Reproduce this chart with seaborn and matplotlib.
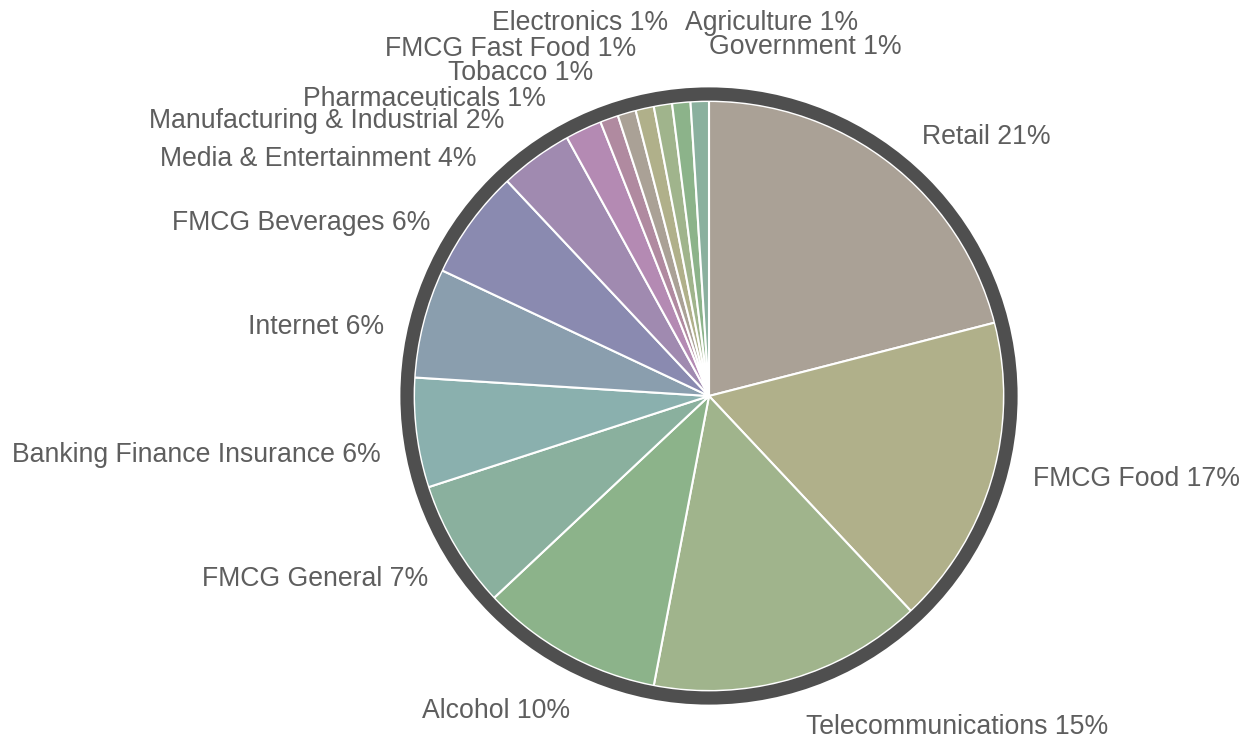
import matplotlib
matplotlib.use("Agg")
import matplotlib.pyplot as plt
from matplotlib.patches import Circle
import seaborn as sns

# Share of clients by industry (%)
industries = [
    "Retail", "FMCG Food", "Telecommunications", "Alcohol", "FMCG General",
    "Banking Finance Insurance", "Internet", "FMCG Beverages",
    "Media & Entertainment", "Manufacturing & Industrial", "Pharmaceuticals",
    "Tobacco", "FMCG Fast Food", "Electronics", "Agriculture", "Government",
]
shares = [21, 17, 15, 10, 7, 6, 6, 6, 4, 2, 1, 1, 1, 1, 1, 1]

# Muted 11-colour cycle used for the wedges
palette_hex = [
    "#aaa196", "#b0b08a", "#a0b48c", "#8cb38a", "#8ab09e", "#8ab0ae",
    "#8a9eae", "#8a8ab0", "#a08ab0", "#b48ab3", "#b08aa0",
]

W, H = 1245, 742
sns.set_theme(style="white")
plt.rcParams["font.family"] = ["Liberation Sans", "DejaVu Sans"]

fig = plt.figure(figsize=(W / 100, H / 100), dpi=100)
ax = fig.add_axes([0, 0, 1, 1])
ax.set_xlim(0, W)
ax.set_ylim(0, H)
ax.set_aspect("equal")
ax.axis("off")

cx, cy = 709, H - 396
radius = 295

colors = sns.color_palette(palette_hex, n_colors=len(palette_hex))
wedge_colors = [colors[i % len(colors)] for i in range(len(shares))]

ax.pie(
    shares,
    colors=wedge_colors,
    startangle=90,
    counterclock=False,
    center=(cx, cy),
    radius=radius,
    wedgeprops=dict(edgecolor="white", linewidth=1.5),
    frame=True,
)
ax.set_xlim(0, W)
ax.set_ylim(0, H)
ax.axis("off")

# Dark outline ring around the pie
ax.add_patch(Circle((cx, cy), radius + 7, fill=False,
                    edgecolor="#4f4f4f", linewidth=9.5, zorder=5))

# Label anchors (pixel x, text centre y from top, alignment)
label_layout = {
    "Retail": (922, 135, "left"),
    "FMCG Food": (1033, 477, "left"),
    "Telecommunications": (806, 724, "left"),
    "Alcohol": (570, 709, "right"),
    "FMCG General": (428, 577, "right"),
    "Banking Finance Insurance": (381, 453, "right"),
    "Internet": (384, 324, "right"),
    "FMCG Beverages": (430, 220, "right"),
    "Media & Entertainment": (476, 156, "right"),
    "Manufacturing & Industrial": (504, 119, "right"),
    "Pharmaceuticals": (546, 96, "right"),
    "Tobacco": (593, 71, "right"),
    "FMCG Fast Food": (636, 46, "right"),
    "Electronics": (668, 20, "right"),
    "Agriculture": (685, 20, "left"),
    "Government": (709, 44, "left"),
}

for name, val in zip(industries, shares):
    x, yc, ha = label_layout[name]
    ax.text(x, H - (yc + 9.5), f"{name} {val}%", ha=ha, va="baseline",
            fontsize=19.2, color="#5e5e5e", zorder=6)

fig.savefig("out.png", dpi=100, facecolor="white")
